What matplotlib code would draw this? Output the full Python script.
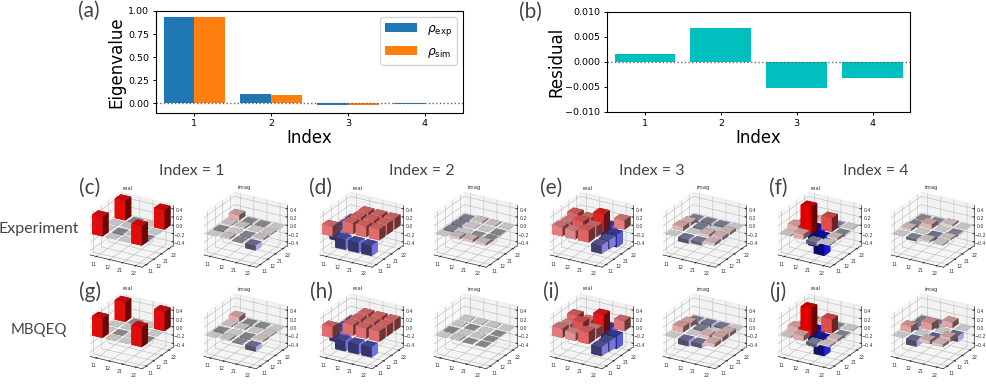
import numpy as np
import matplotlib
matplotlib.use("Agg")
import matplotlib.pyplot as plt
from matplotlib.colors import Normalize

# ----------------------------- data -------------------------------------------
index = [1, 2, 3, 4]
rho_exp = [0.93, 0.10, -0.02, -0.003]
rho_sim = [0.93, 0.095, -0.018, -0.002]
residual = [0.0015, 0.0068, -0.0052, -0.0032]
basis = ["11", "12", "21", "22"]
row_names = ["Experiment", "MBQEQ"]

# density-matrix bars, rows = x position, columns = y position
c_real = [[.47, .0, .0, .47], [.0, -.03, .02, -.03], [.0, .02, -.02, .0], [.47, -.03, .0, .47]]
c_imag = [[0, -.03, .02, .12], [.03, 0, .03, -.03], [-.02, -.03, 0, -.02], [-.12, .03, .02, 0]]
d_real = [[.24, -.25, -.25, -.25], [-.25, .26, .26, .26], [-.25, .26, .26, .26], [-.25, .26, .26, .26]]
d_imag = [[0, -.05, -.06, -.05], [.05, 0, .01, .03], [.06, -.01, 0, .02], [.05, -.03, -.02, 0]]
e_real = [[.22, .20, .28, -.20], [.20, .30, .25, -.22], [.28, .25, .42, -.30], [-.20, -.22, -.30, .22]]
e_imag = [[0, .10, .07, -.06], [-.10, 0, -.06, -.07], [-.07, .06, 0, -.06], [.06, .07, .06, 0]]
f_real = [[.02, .12, -.08, .02], [.12, .65, -.45, .05], [-.08, -.45, .33, -.04], [.02, .05, -.04, .01]]
f_imag = [[0, .05, -.04, -.02], [-.05, 0, .10, -.03], [.04, -.10, 0, .04], [.02, .03, -.04, 0]]

g_real = [[.47, .0, .0, .47], [.0, -.01, .01, -.01], [.0, .01, -.01, .0], [.47, -.01, .0, .47]]
g_imag = [[0, -.03, .02, .11], [.03, 0, .03, -.03], [-.02, -.03, 0, -.02], [-.11, .03, .02, 0]]
h_real = [[.26, -.25, -.25, -.25], [-.25, .25, .25, .25], [-.25, .25, .25, .25], [-.25, .25, .25, .25]]
h_imag = [[0, -.02, .01, .01], [.02, 0, -.01, .01], [-.01, .01, 0, .01], [-.01, -.01, -.01, 0]]
i_real = [[.22, .18, .28, -.22], [.18, .32, .22, -.24], [.28, .22, .44, -.30], [-.22, -.24, -.30, .24]]
i_imag = [[0, .13, .10, -.08], [-.13, 0, -.07, -.10], [-.10, .07, 0, -.08], [.08, .10, .08, 0]]
j_real = [[.02, .12, -.07, .03], [.12, .65, -.42, .05], [-.07, -.42, .33, -.04], [.03, .05, -.04, .01]]
j_imag = [[0, .14, -.08, -.06], [-.14, 0, .16, -.10], [.08, -.16, 0, .13], [.06, .10, -.13, 0]]

panel_letters = ["(c)", "(d)", "(e)", "(f)", "(g)", "(h)", "(i)", "(j)"]
panel_real = [c_real, d_real, e_real, f_real, g_real, h_real, i_real, j_real]
panel_imag = [c_imag, d_imag, e_imag, f_imag, g_imag, h_imag, i_imag, j_imag]

# ----------------------------- helpers ----------------------------------------
W, H = 987, 387
LABEL_FONT = ["Lato", "DejaVu Sans"]
norm = Normalize(-0.5, 0.5)
cmap = matplotlib.colormaps["bwr"]


def px_axes(left, top, right, bottom, **kw):
    return fig.add_axes([left / W, 1 - bottom / H, (right - left) / W, (bottom - top) / H], **kw)


def label(x, y, s, size=15):
    fig.text(x / W, 1 - y / H, s, fontsize=size, family=LABEL_FONT,
             color="#444444", ha="center", va="center")


def histogram(cx, cy, values, title, title_y):
    s = 94
    ax = px_axes(cx - s / 2, cy - s / 2, cx + s / 2, cy + s / 2, projection="3d")
    ax.patch.set_alpha(0)
    ax.set_proj_type("ortho")
    ax.view_init(elev=24, azim=-60)
    m = np.array(values, dtype=float)
    xx, yy = np.meshgrid(np.arange(4), np.arange(4), indexing="ij")
    dz = m.ravel().copy()
    dz[dz == 0] = 1e-3
    ax.bar3d(xx.ravel() + 0.1, yy.ravel() + 0.1, np.zeros(16), 0.8, 0.8, dz,
             color=cmap(norm(m.ravel())), linewidth=0)
    ax.set_xlim(0, 4)
    ax.set_ylim(0, 4)
    ax.set_zlim(-0.5, 0.5)
    ax.set_xticks([0.5, 1.5, 2.5, 3.5], basis)
    ax.set_yticks([0.5, 1.5, 2.5, 3.5], basis)
    ax.set_zticks([-0.4, -0.2, 0, 0.2, 0.4])
    ax.tick_params(labelsize=3.4, pad=-5, length=0, colors="#333333")
    for a in (ax.xaxis, ax.yaxis, ax.zaxis):
        a._axinfo["grid"]["linewidth"] = 0.35
        a.line.set_linewidth(0.4)
    fig.text((cx + title_x[title]) / W, 1 - title_y / H, title, fontsize=3.8,
             color="#333333", ha="center", va="center")
    return ax


title_x = {"real": -2, "imag": 0}

# ----------------------------- plot -------------------------------------------
fig = plt.figure(figsize=(W / 100, H / 100), dpi=100)

ax = px_axes(156, 11, 463, 112.5)
idx = np.array(index)
ax.bar(idx - 0.2, rho_exp, width=0.4, color="#1f77b4", label=r"$\rho_{\rm exp}$")
ax.bar(idx + 0.2, rho_sim, width=0.4, color="#ff7f0e", label=r"$\rho_{\rm sim}$")
ax.axhline(0, color="#666666", ls=":", lw=1)
ax.set_xlim(0.5, 4.5)
ax.set_ylim(-0.1, 1.0)
ax.set_xticks(index)
ax.set_yticks([0, 0.25, 0.5, 0.75, 1.0], ["0.00", "0.25", "0.50", "0.75", "1.00"])
ax.tick_params(labelsize=6.8, width=0.7, length=2.5, pad=2.5)
ax.set_xlabel("Index", fontsize=12, labelpad=0.5)
ax.set_ylabel("Eigenvalue", fontsize=12, labelpad=2)
ax.legend(loc="upper right", fontsize=8.8, handlelength=2.6, borderaxespad=0.5, labelspacing=0.55)

ax = px_axes(607, 11.7, 910.5, 112)
ax.bar(index, residual, width=0.8, color="c")
ax.axhline(0, color="#666666", ls=":", lw=1)
ax.set_xlim(0.5, 4.5)
ax.set_ylim(-0.01, 0.01)
ax.set_xticks(index)
ax.set_yticks([-0.01, -0.005, 0, 0.005, 0.01], ["\u22120.010", "\u22120.005", "0.000", "0.005", "0.010"])
ax.tick_params(labelsize=6.8, width=0.7, length=2.5, pad=2.5)
ax.set_xlabel("Index", fontsize=12, labelpad=0.5)
ax.set_ylabel("Residual", fontsize=12, labelpad=-0.5)

label(89, 11, "(a)")
label(530, 12, "(b)")
for n, x in enumerate([192, 422, 652, 876]):
    label(x, 171, f"Index = {n + 1}", 11.5)
label(39, 229, row_names[0], 11.5)
label(39, 330, row_names[1], 10.8)

real_x = [130, 360, 590, 818]
imag_x = [244, 474, 703, 931]
row_y = [231, 332.5]
title_row = [188, 289]
letter_x = [90, 321, 551, 778]
letter_y = [188, 292]
for r in range(2):
    for c in range(4):
        k = r * 4 + c
        histogram(real_x[c], row_y[r], panel_real[k], "real", title_row[r])
        histogram(imag_x[c], row_y[r], panel_imag[k], "imag", title_row[r])
        label(letter_x[c], letter_y[r], panel_letters[k])

fig.savefig("out.png", dpi=100)
